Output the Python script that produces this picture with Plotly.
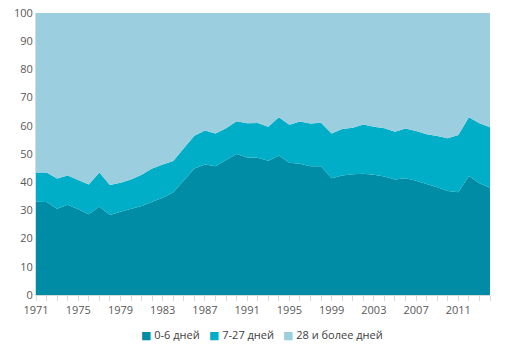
import plotly.graph_objects as go

years = list(range(1971, 2015))
days_0_6 = [33.1, 33.0, 30.6, 32.0, 30.4, 28.6, 31.4, 28.4, 29.5, 30.5,
            31.6, 33.1, 34.5, 36.4, 40.8, 44.9, 46.3, 45.7, 47.9, 50.0,
            48.8, 48.7, 47.6, 49.5, 46.9, 46.5, 45.7, 45.7, 41.4, 42.4,
            42.8, 43.0, 42.6, 42.0, 41.0, 41.4, 40.5, 39.4, 38.2, 36.9,
            36.4, 42.2, 39.6, 38.0]
cum_0_27 = [43.4, 43.4, 41.3, 42.4, 40.8, 39.2, 43.4, 39.0, 39.8, 41.0,
            42.6, 44.9, 46.3, 47.5, 52.0, 56.5, 58.3, 57.3, 59.1, 61.6,
            60.9, 61.0, 59.7, 63.0, 60.4, 61.5, 60.8, 61.1, 57.3, 58.9,
            59.3, 60.5, 59.7, 59.1, 57.9, 59.0, 58.2, 57.0, 56.4, 55.6,
            56.7, 63.0, 60.9, 59.5]
days_7_27 = [round(c - a, 1) for c, a in zip(cum_0_27, days_0_6)]
days_28 = [round(100 - c, 1) for c in cum_0_27]

series_names = ["0-6 дней", "7-27 дней", "28 и более дней"]
series_values = [days_0_6, days_7_27, days_28]
series_colors = ["#008CA4", "#00AEC7", "#9BCEDE"]

tick_years = list(range(1971, 2015, 4))

fig = go.Figure()
for name, vals, col in zip(series_names, series_values, series_colors):
    fig.add_trace(go.Scatter(x=years, y=vals, name=name, mode="lines",
                             stackgroup="one", line=dict(width=0, color=col),
                             fillcolor=col, showlegend=False))

legend_ids = ["legend", "legend2", "legend3"]
legend_x = [101, 169, 243]
for name, col, lid in zip(series_names, series_colors, legend_ids):
    label = f"<span style='color:{col}; font-family:DejaVu Sans'>■</span> {name}"
    fig.add_trace(go.Scatter(x=[None], y=[None], name=label, mode="markers",
                             marker=dict(symbol="square", size=1, color="rgba(0,0,0,0)"),
                             showlegend=True, legend=lid))

legend_common = dict(orientation="h", xref="container", yref="container",
                     xanchor="left", yanchor="middle", y=1 - 335 / 356,
                     font=dict(size=11, color="#404040"), itemwidth=30,
                     bgcolor="rgba(0,0,0,0)")
legends = {lid: dict(legend_common, x=lx / 511) for lid, lx in zip(legend_ids, legend_x)}

fig.update_layout(
    width=511, height=356,
    margin=dict(l=36, r=21, t=13, b=61),
    paper_bgcolor="white", plot_bgcolor="white",
    font=dict(family="Open Sans", size=11, color="#595959"),
    showlegend=True,
    xaxis=dict(range=[1971, 2014], tickvals=tick_years, ticktext=[str(y) for y in tick_years],
               showgrid=False, zeroline=False, showline=True, linecolor="#D9D9D9",
               ticks="outside", ticklen=5, tickcolor="#D9D9D9", automargin=False,
               minor=dict(dtick=1, tick0=1971, ticks="outside", ticklen=5, tickcolor="#D9D9D9"),
               tickfont=dict(size=11, color="#595959")),
    yaxis=dict(range=[0, 100], dtick=10, showgrid=False, zeroline=False,
               showline=True, linecolor="#D9D9D9", ticks="", automargin=False,
               tickfont=dict(size=11, color="#595959")),
    **legends,
)

fig.write_html("out.html", config={"displayModeBar": False},
               post_script="document.body.style.margin='0';")
